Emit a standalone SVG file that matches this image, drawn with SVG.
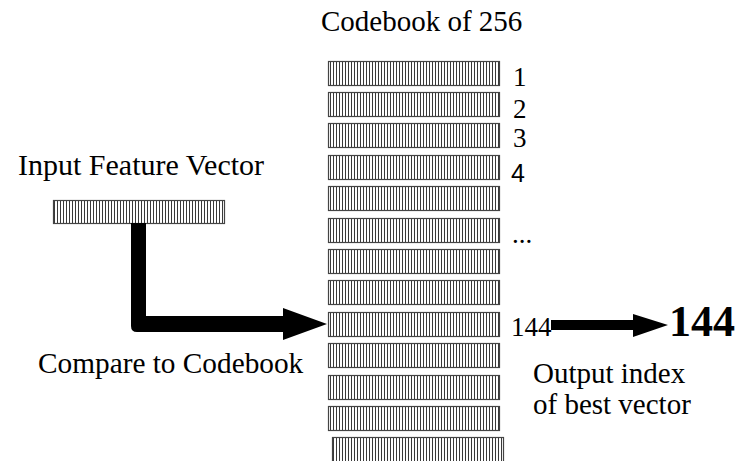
<svg xmlns="http://www.w3.org/2000/svg" width="745" height="461" viewBox="0 0 745 461">
<defs>
<pattern id="hatch" patternUnits="userSpaceOnUse" width="3" height="10">
<rect x="0" y="0" width="3" height="10" fill="#fff"/>
<rect x="0" y="0" width="1" height="10" fill="#3a3a3a"/>
</pattern>
</defs>
<style>
.bar{fill:url(#hatch);stroke:#444;stroke-width:1.2}
.t{font-family:"Liberation Serif","Times New Roman",serif;fill:#000}
.lab{font-size:29px}
.num{font-size:27px}
.arrow{fill:#000;stroke:none}
</style>
<rect width="745" height="461" fill="#fff"/>
<g id="title"><text class="t lab" x="321" y="31">Codebook of 256</text></g>
<g id="input-label"><text class="t lab" x="18" y="175" style="font-size:30px">Input Feature Vector</text></g>
<g id="input-vector"><rect class="bar" x="53.5" y="200.5" width="171" height="23"/></g>
<g id="codebook">
<rect class="bar" x="328.5" y="61.5" width="171" height="24"/>
<rect class="bar" x="328.5" y="92.5" width="171" height="24"/>
<rect class="bar" x="328.5" y="123.5" width="171" height="24"/>
<rect class="bar" x="328.5" y="155.5" width="171" height="24"/>
<rect class="bar" x="328.5" y="186.5" width="171" height="24"/>
<rect class="bar" x="328.5" y="218.5" width="171" height="24"/>
<rect class="bar" x="328.5" y="249.5" width="171" height="24"/>
<rect class="bar" x="328.5" y="280.5" width="171" height="24"/>
<rect class="bar" x="328.5" y="312.5" width="171" height="24"/>
<rect class="bar" x="328.5" y="343.5" width="171" height="24"/>
<rect class="bar" x="328.5" y="375.5" width="171" height="24"/>
<rect class="bar" x="328.5" y="406.5" width="171" height="24"/>
<rect class="bar" x="332.5" y="437.5" width="171" height="30"/>
</g>
<g id="indices">
<text class="t num" x="513" y="86">1</text>
<text class="t num" x="513" y="118">2</text>
<text class="t num" x="513" y="147">3</text>
<text x="511" y="182" style="font-family:'Liberation Sans',Arial,sans-serif;font-size:25px;fill:#000">4</text>
<text class="t num" x="512" y="243">...</text>
<text class="t num" x="511" y="336">144</text>
</g>
<g id="compare-label"><text class="t lab" x="38" y="373" style="font-size:29.3px">Compare to Codebook</text></g>
<g id="output">
<text class="t" x="669" y="336" style="font-size:44px;font-weight:bold">144</text>
<text class="t lab" x="533" y="383">Output index</text>
<text class="t lab" x="533" y="414">of best vector</text>
</g>
<g id="connectors">
<path class="arrow" d="M131,223 H146 V316 H283 V308 L327,324 L283,340 V332 H137 Q131,332 131,326 Z"/>
<path class="arrow" d="M551,320 H633 V314 L668,325 L633,337 V330 H551 Z"/>
</g>
</svg>
